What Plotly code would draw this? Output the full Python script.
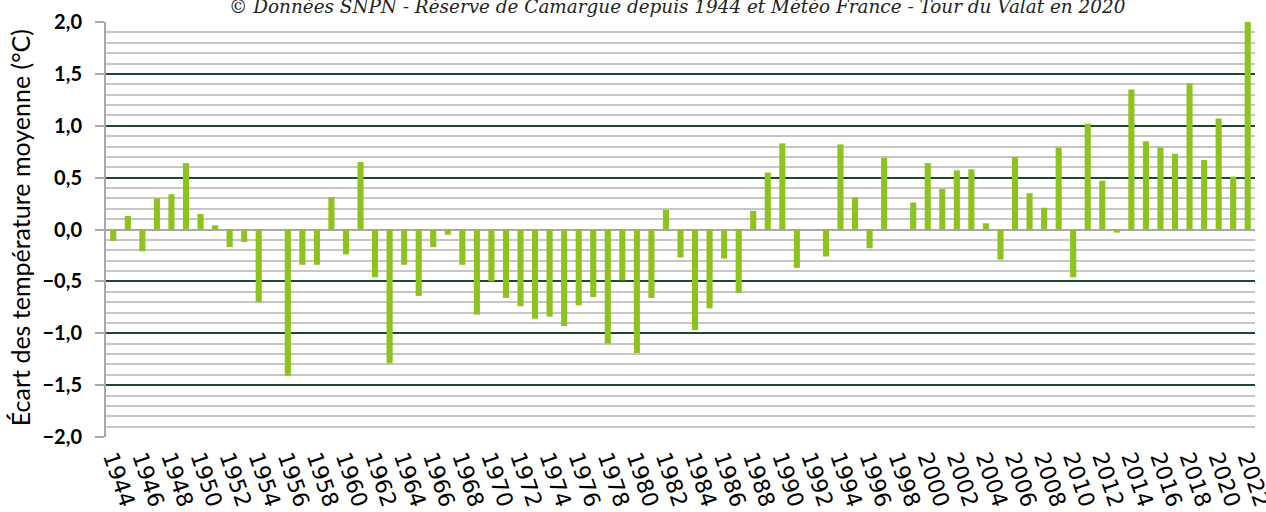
import plotly.graph_objects as go

years = list(range(1944, 2023))
values = [
    -0.11, 0.13, -0.21, 0.30, 0.34, 0.64, 0.15, 0.04, -0.17, -0.12,  # 1944-1953
    -0.70, 0.00, -1.41, -0.34, -0.34, 0.31, -0.24, 0.65, -0.46, -1.29,  # 1954-1963
    -0.34, -0.64, -0.17, -0.05, -0.34, -0.82, -0.50, -0.66, -0.74, -0.86,  # 1964-1973
    -0.84, -0.93, -0.73, -0.65, -1.10, -0.49, -1.19, -0.66, 0.19, -0.27,  # 1974-1983
    -0.97, -0.76, -0.28, -0.61, 0.18, 0.55, 0.83, -0.37, 0.00, -0.26,  # 1984-1993
    0.82, 0.31, -0.18, 0.69, 0.00, 0.26, 0.64, 0.39, 0.57, 0.58,  # 1994-2003
    0.06, -0.29, 0.70, 0.35, 0.21, 0.79, -0.46, 1.02, 0.47, -0.03,  # 2004-2013
    1.35, 0.85, 0.79, 0.73, 1.41, 0.67, 1.07, 0.51, 2.00,  # 2014-2022
]
tick_years = list(range(1944, 2023, 2))
y_title = "Écart des température moyenne (°C)"
source = "© Données SNPN - Réserve de Camargue depuis 1944 et Météo France - Tour du Valat en 2020"

fig = go.Figure()
fig.add_trace(go.Bar(
    x=years, y=values, width=0.42,
    marker=dict(color="#8dc21f", line=dict(width=0)),
    hoverinfo="x+y",
))

fig.update_layout(
    width=1266, height=512,
    margin=dict(l=106, r=11, t=22, b=75, autoexpand=False),
    paper_bgcolor="white", plot_bgcolor="white",
    separators=", ",
    showlegend=False,
    font=dict(family="Lato", color="black"),
    annotations=[
        dict(
            text=source, xref="paper", yref="paper",
            x=(677 - 106) / 1149, y=1 + (22 - 18.5) / 415,
            xanchor="center", yanchor="bottom", showarrow=False,
            font=dict(family="DejaVu Serif", size=18.4, color="#222222", style="italic"),
        ),
        dict(
            text=y_title, xref="paper", yref="paper",
            x=(20 - 106) / 1149, y=0.503, textangle=-90,
            xanchor="center", yanchor="middle", showarrow=False,
            font=dict(family="Lato", size=25, color="black"),
        ),
    ],
)

fig.update_xaxes(
    range=[1943.5, 2022.5], automargin=False,
    tickmode="array", tickvals=tick_years, ticktext=[str(y) for y in tick_years],
    tickangle=71, tickfont=dict(family="DejaVu Sans", size=22, color="black"),
    ticklabeloverflow="allow", ticklabelstandoff=3,
    showgrid=False, showline=False, ticks="", zeroline=False,
)
fig.update_yaxes(
    range=[-2, 2], dtick=0.5, tick0=0, tickformat=".1f", automargin=False,
    tickfont=dict(family="Lato", size=20, color="black", weight="bold"),
    showgrid=True, gridcolor="#1e4a2c", gridwidth=1.5,
    minor=dict(dtick=0.1, showgrid=True, gridcolor="#c6c6c6", gridwidth=2),
    zeroline=True, zerolinecolor="#a8a8a8", zerolinewidth=2,
    showline=True, linecolor="#a8a8a8", linewidth=2,
    ticks="outside", ticklen=9, tickcolor="#a8a8a8", tickwidth=1.5,
    ticklabelstandoff=9,
)

fig.write_html("out.html", config={"displayModeBar": False},
               post_script="document.body.style.margin='0';")
